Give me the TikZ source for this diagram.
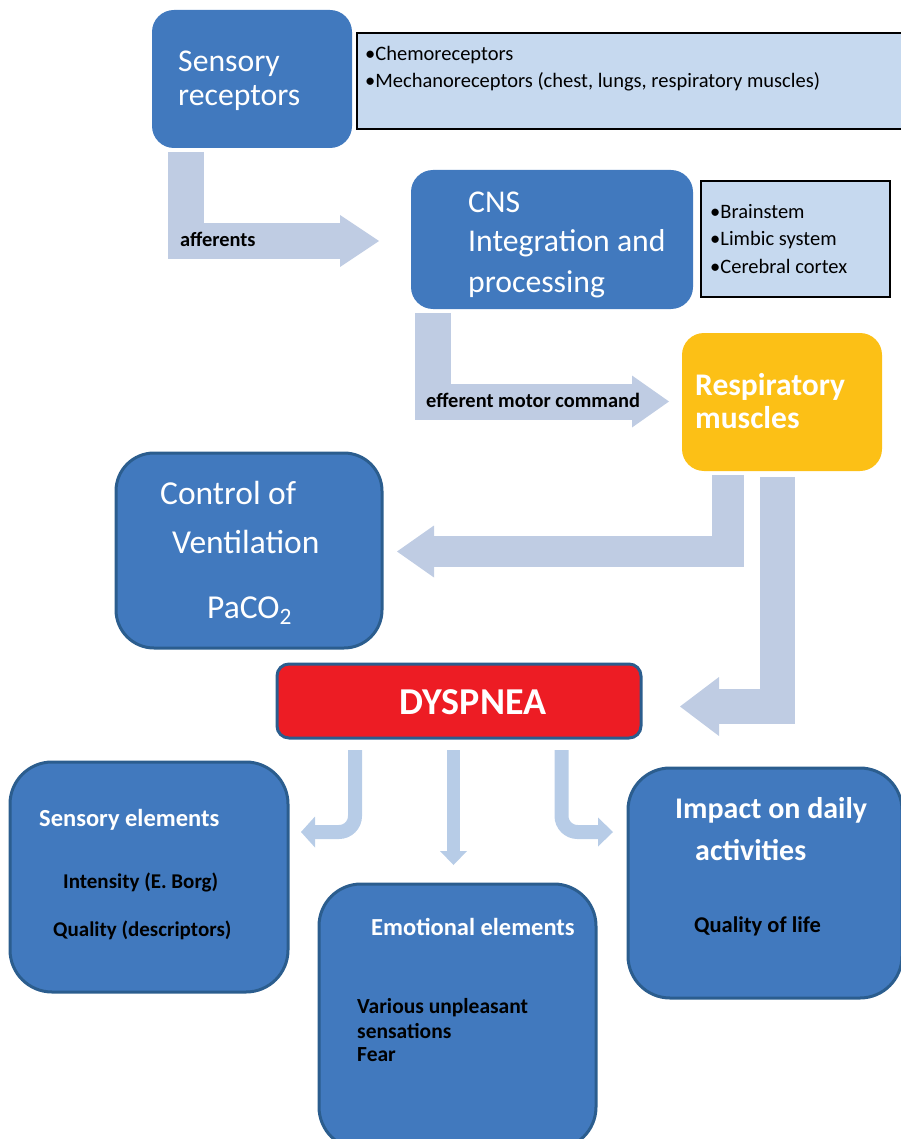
\documentclass[tikz,border=0pt]{standalone}
\usepackage{fontspec}
\setmainfont{Carlito}
\usetikzlibrary{arrows.meta}
\definecolor{boxblue}{HTML}{4179BE}
\definecolor{edgeblue}{HTML}{2B5D8E}
\definecolor{paleblue}{HTML}{C6D9EF}
\definecolor{arrowgrey}{HTML}{BFCCE3}
\definecolor{arrowlight}{HTML}{B7CCE7}
\definecolor{amber}{HTML}{FCC016}
\definecolor{dysred}{HTML}{ED1C24}
\begin{document}
\begin{tikzpicture}[x=1pt,y=-1pt,
  boxbase/.style={rectangle, inner sep=0pt, outer sep=0pt, anchor=north west},
  plainbox/.style={boxbase, fill=boxblue, rounded corners=22pt},
  edgebox/.style={boxbase, fill=boxblue, draw=edgeblue, line width=3pt, rounded corners=#1},
  listbox/.style={boxbase, fill=paleblue, draw=black, line width=1.4pt},
  bigtxt/.style={anchor=base west, inner sep=0pt, text=white, font=\fontsize{31.7}{36}\selectfont},
  ctltxt/.style={anchor=base west, inner sep=0pt, text=white, font=\fontsize{33.5}{38}\selectfont},
  bigbold/.style={anchor=base west, inner sep=0pt, text=white, font=\fontsize{31.5}{36}\selectfont\bfseries},
  listtxt/.style={anchor=base west, inner sep=0pt, text=black, font=\fontsize{20.5}{24}\selectfont},
  lbl/.style={anchor=base west, inner sep=0pt, text=black, font=\fontsize{20.4}{24}\selectfont\bfseries},
  headw/.style={anchor=base west, inner sep=0pt, text=white, font=\fontsize{24.5}{28}\selectfont\bfseries},
  bodyb/.style={anchor=base west, inner sep=0pt, text=black, font=\fontsize{21}{26}\selectfont\bfseries},
  blockarrow/.style={draw=arrowgrey, line join=miter, line cap=butt},
  thinarrow/.style={draw=arrowlight, line width=14pt, line cap=butt, rounded corners=16pt,
     -{Triangle[length=14pt,width=31pt,line width=0pt]}}
]
\useasboundingbox (0,0) rectangle (901,1139);

% ---------- boxes ----------
\node[plainbox, minimum width=200pt, minimum height=138pt] (sens) at (152,10) {};
\node[listbox, minimum width=548pt, minimum height=96pt] (chemo) at (357,33) {};
\node[plainbox, minimum width=282pt, minimum height=139pt] (cns) at (411,170) {};
\node[listbox, minimum width=189pt, minimum height=116pt] (brain) at (701,181) {};
\node[boxbase, fill=amber, rounded corners=22pt, minimum width=200pt, minimum height=138pt] (resp) at (682,333) {};
\node[edgebox=38pt, minimum width=266pt, minimum height=195pt] (ctrl) at (116,453) {};
\node[boxbase, fill=dysred, draw=edgeblue, line width=3pt, rounded corners=12pt, minimum width=364pt, minimum height=74pt] (dys) at (277,664) {};
\node[edgebox=42pt, minimum width=278pt, minimum height=230pt] (sel) at (10,762) {};
\node[edgebox=42pt, minimum width=277pt, minimum height=265pt] (emo) at (319,884) {};
\node[edgebox=42pt, minimum width=274pt, minimum height=230pt] (imp) at (628,768) {};

% ---------- block arrows ----------
\coordinate (a1s) at (186,152); \coordinate (a1c) at (186,241); \coordinate (a1e) at (379,241);
\draw[blockarrow, line width=36pt, -{Triangle[length=39pt,width=52pt,line width=0pt]}] (a1s) -- (a1c) -- (a1e);
\coordinate (a2s) at (433,313); \coordinate (a2c) at (433,401.5); \coordinate (a2e) at (669,401.5);
\draw[blockarrow, line width=36pt, -{Triangle[length=37pt,width=52pt,line width=0pt]}] (a2s) -- (a2c) -- (a2e);
\coordinate (a3s) at (728,475); \coordinate (a3c) at (728,551.5); \coordinate (a3e) at (397,551.5);
\draw[blockarrow, line width=31.5pt, -{Triangle[length=37pt,width=52pt,line width=0pt]}] (a3s) -- (a3c) -- (a3e);
\coordinate (a4s) at (777.5,477); \coordinate (a4c) at (777.5,706.5); \coordinate (a4e) at (680,706.5);
\draw[blockarrow, line width=35pt, -{Triangle[length=39pt,width=59pt,line width=0pt]}] (a4s) -- (a4c) -- (a4e);

% ---------- small arrows from DYSPNEA ----------
\coordinate (b1s) at (355,750); \coordinate (b1c) at (355,832); \coordinate (b1e) at (301,832);
\draw[thinarrow] (b1s) -- (b1c) -- (b1e);
\coordinate (b2s) at (453.5,750); \coordinate (b2e) at (453.5,865);
\draw[thinarrow, line width=13pt, -{Triangle[length=14pt,width=27pt,line width=0pt]}] (b2s) -- (b2e);
\coordinate (b3s) at (561.5,750); \coordinate (b3c) at (561.5,832); \coordinate (b3e) at (613,832);
\draw[thinarrow, -{Triangle[length=15pt,width=29pt,line width=0pt]}] (b3s) -- (b3c) -- (b3e);

% ---------- texts ----------
\node[bigtxt] (t-sens1) at (178,72) {Sensory};
\node[bigtxt] (t-sens2) at (178,106) {receptors};
\node[listtxt] (t-ch1) at (365,61) {•Chemoreceptors};
\node[listtxt] (t-ch2) at (365,88) {•Mechanoreceptors (chest, lungs, respiratory muscles)};
\node[lbl] (t-aff) at (180,247) {afferents};
\node[bigtxt] (t-cns1) at (468,213) {CNS};
\node[bigtxt] (t-cns2) at (468,252) {Integration and};
\node[bigtxt] (t-cns3) at (468,292) {processing};
\node[listtxt] (t-br1) at (710,219) {•Brainstem};
\node[listtxt] (t-br2) at (710,246) {•Limbic system};
\node[listtxt] (t-br3) at (710,273) {•Cerebral cortex};
\node[lbl] (t-eff) at (426,407) {efferent motor command};
\node[bigbold] (t-resp1) at (695,395) {Respiratory};
\node[bigbold] (t-resp2) at (695,428) {muscles};
\node[ctltxt] (t-ctl1) at (160,504) {Control of};
\node[ctltxt] (t-ctl2) at (172,553) {Ventilation};
\node[ctltxt] (t-ctl3) at (207,618) {PaCO\textsubscript{2}};
\node[anchor=base, inner sep=0pt, text=white, font=\fontsize{38}{44}\selectfont\bfseries] (t-dys) at (473,714) {DYSPNEA};
\node[headw] (t-sel) at (39,826) {Sensory elements};
\node[bodyb] (t-sel1) at (63,888) {Intensity (E. Borg)};
\node[bodyb] (t-sel2) at (53,936) {Quality (descriptors)};
\node[headw] (t-emo) at (371,935) {Emotional elements};
\node[bodyb, font=\fontsize{21.5}{26}\selectfont\bfseries] (t-emo1) at (357,1013) {Various unpleasant};
\node[bodyb, font=\fontsize{21.5}{26}\selectfont\bfseries] (t-emo2) at (357,1038) {sensations};
\node[bodyb, font=\fontsize{21.5}{26}\selectfont\bfseries] (t-emo3) at (357,1061) {Fear};
\node[headw, font=\fontsize{30}{36}\selectfont\bfseries] (t-imp1) at (675,818) {Impact on daily};
\node[headw, font=\fontsize{30}{36}\selectfont\bfseries] (t-imp2) at (695,860) {activities};
\node[bodyb, font=\fontsize{22.5}{26}\selectfont\bfseries] (t-imp3) at (694,932) {Quality of life};
\end{tikzpicture}
\end{document}
